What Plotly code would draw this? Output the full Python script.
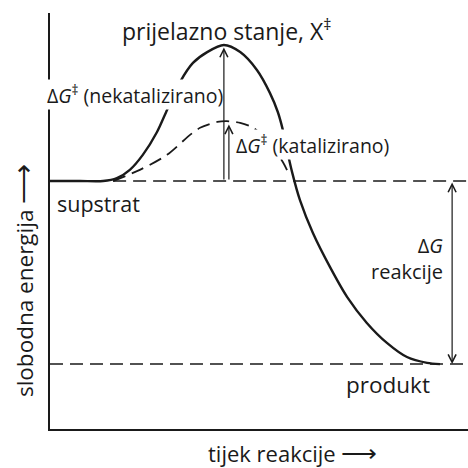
import plotly.graph_objects as go

# Reaction progress (x, 0-100) and free energy (y, 0-100)
uncat_x = [0.0, 7.2, 12.7, 16.0, 19.1, 22.2, 25.6, 28.0, 31.1, 34.2, 37.6, 41.6, 45.5, 49.5,
           52.6, 54.5, 55.7, 56.7, 57.9, 59.8, 62.9, 67.0, 71.1, 75.8, 80.6, 85.4, 90.2, 93.3]
uncat_y = [59.6, 59.6, 59.6, 60.3, 62.3, 65.9, 71.4, 76.7, 83.4, 88.0, 90.6, 92.3, 90.6, 86.3,
           80.8, 76.2, 71.9, 67.1, 61.8, 55.0, 47.1, 38.9, 31.7, 25.5, 20.7, 17.3, 15.9, 15.6]

cat_x = [15.1, 21.5, 28.0, 33.5, 35.9, 40.0, 42.3, 45.5, 48.6, 51.9, 55.7, 56.9]
cat_y = [59.6, 62.3, 65.9, 70.7, 72.4, 73.8, 74.0, 73.6, 72.4, 69.5, 64.2, 61.8]

substrate_level = 59.6
product_level = 15.6
ts_uncat = 92.3
ts_cat = 74.0
ts_uncat_x = 41.6
ts_cat_x = 42.8
dG_x = 96.2

FONT = "Open Sans"
ink = "#1a1a1a"

fig = go.Figure()

# dashed reference levels
fig.add_trace(go.Scatter(x=[15.1, 100], y=[substrate_level, substrate_level], mode="lines",
                         line=dict(color=ink, width=1.5, dash="13px,7px"), hoverinfo="skip"))
fig.add_trace(go.Scatter(x=[0, 100], y=[product_level, product_level], mode="lines",
                         line=dict(color=ink, width=1.5, dash="13px,7px"), hoverinfo="skip"))
# catalysed path
fig.add_trace(go.Scatter(x=cat_x, y=cat_y, mode="lines", line_shape="spline",
                         line=dict(color=ink, width=1.8, dash="13px,7px", smoothing=0.8),
                         hoverinfo="skip"))
# uncatalysed path
fig.add_trace(go.Scatter(x=uncat_x, y=uncat_y, mode="lines", line_shape="spline",
                         line=dict(color=ink, width=2.4, smoothing=0.8), hoverinfo="skip"))

ann = []
def label(text, x, y, size, xanchor="center", bg=None, **kw):
    d = dict(text=text, x=x, y=y, xref="x", yref="y", showarrow=False,
             font=dict(family=FONT, size=size, color=ink), xanchor=xanchor, yanchor="middle",
             borderpad=0)
    if bg:
        d["bgcolor"] = bg
    d.update(kw)
    ann.append(d)

label("prijelazno stanje, X<sup>‡</sup>", 42.3, 95.9, 23)
label("Δ<i>G</i><sup>‡</sup> (nekatalizirano)", 20.3, 80.3, 19.5, bg="white")
label("Δ<i>G</i><sup>‡</sup> (katalizirano)", 62.9, 68.3, 19.5, bg="white")
label("supstrat", 11.7, 54.3, 21.5)
label("Δ<i>G</i><br>reakcije", 94.3, 41.1, 20, xanchor="right", align="right")
label("produkt", 80.9, 10.6, 22.5)

# arrows
def arrow(x, y0, y1, side="end"):
    ann.append(dict(x=x, y=y1, ax=x, ay=y0, xref="x", yref="y", axref="x", ayref="y",
                    showarrow=True, arrowhead=5, startarrowhead=5, arrowsize=1.3,
                    startarrowsize=1.3, arrowwidth=1.2, arrowcolor=ink, arrowside=side,
                    standoff=0, startstandoff=0, text=""))

arrow(ts_uncat_x, substrate_level, ts_uncat - 0.6)
arrow(ts_cat_x, substrate_level, ts_cat - 0.8)
arrow(dG_x, substrate_level, product_level, side="end+start")

# axis titles
ann.append(dict(text="slobodna energija <span style='font-size:28px'>⟶</span>",
                x=-0.067, y=0.358, xref="paper", yref="paper", xanchor="center", yanchor="middle",
                showarrow=False, textangle=-90, font=dict(family=FONT, size=22.5, color=ink)))
ann.append(dict(text="tijek reakcije <span style='font-size:25px'>⟶</span>",
                x=0.579, y=-0.055, xref="paper", yref="paper", xanchor="center", yanchor="middle",
                showarrow=False, font=dict(family=FONT, size=22, color=ink)))

fig.update_layout(
    width=468, height=468,
    margin=dict(l=50, r=0, t=13, b=39, autoexpand=False),
    paper_bgcolor="white", plot_bgcolor="white",
    showlegend=False,
    annotations=ann,
    xaxis=dict(range=[0, 100], showgrid=False, zeroline=False, showticklabels=False, ticks="",
               showline=True, linecolor=ink, linewidth=2, fixedrange=True),
    yaxis=dict(range=[0, 100], showgrid=False, zeroline=False, showticklabels=False, ticks="",
               showline=True, linecolor=ink, linewidth=2, fixedrange=True),
)

fig.write_html("out.html", config={"displayModeBar": False},
               post_script="document.body.style.margin='0';")
